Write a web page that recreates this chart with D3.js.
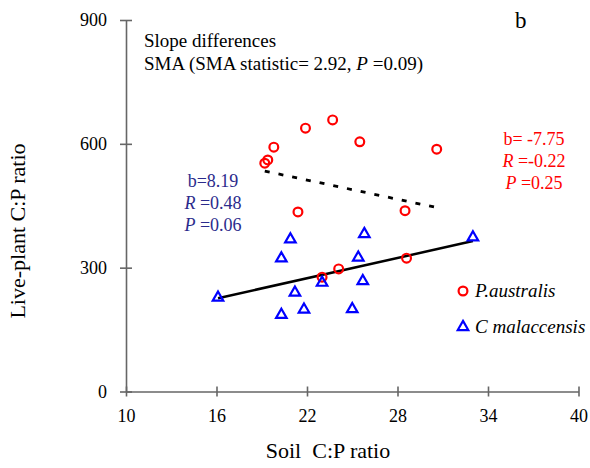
<!DOCTYPE html>
<html>
<head>
<meta charset="utf-8">
<script src="https://cdn.jsdelivr.net/npm/d3@7"></script>
<style>
  body { margin: 0; background: #fff; }
  svg { font-family: "Liberation Serif", "Times New Roman", serif; }
</style>
</head>
<body>
<div id="chart"></div>
<script>
// P.australis (red circles)
const pausX = [19.2, 19.4, 19.8, 21.9, 23.7, 25.5, 30.6, 21.4, 28.5, 28.6, 24.1, 23.0];
const pausY = [553, 561, 592, 638, 658, 605, 587, 435, 438, 323, 297, 277];
// C malaccensis (blue triangles)
const cmalX = [16.1, 20.9, 20.3, 25.8, 25.4, 25.7, 23.0, 21.2, 21.8, 20.3, 25.0, 33.0];
const cmalY = [230, 371, 325, 384, 327, 270, 266, 242, 201, 188, 202, 376];
// SMA fits (endpoints along x)
const cmalFitX = [16.1, 33.0], cmalFitB = 8.19, cmalFitY0 = 226;
const pausFitX = [19.2, 30.5], pausFitB = -7.75, pausFitY0 = 534;

const xTicks = [10, 16, 22, 28, 34, 40];
const yTicks = [0, 300, 600, 900];

const W = 590, H = 468;
const red = "#ff0000", blue = "#0000ff", navy = "#2b2b8c", axisColor = "#666";
const serif = '"Liberation Serif", "Times New Roman", serif';

const svg = d3.select("#chart").append("svg")
  .attr("width", W)
  .attr("height", H);

const x = d3.scaleLinear().domain([10, 40]).range([126, 578.5]);
const y = d3.scaleLinear().domain([0, 900]).range([391.5, 20]);

// axes
const xAxis = svg.append("g")
  .attr("transform", `translate(0,${y(0)})`)
  .call(d3.axisBottom(x).tickValues(xTicks).tickSize(5).tickSizeOuter(0))
  .attr("font-family", serif)
  .attr("font-size", 18);
xAxis.selectAll(".tick line").attr("y1", -5).attr("y2", 5);
xAxis.selectAll(".tick text").attr("y", 30).attr("dy", 0).attr("fill", "#000");

const yAxis = svg.append("g")
  .attr("transform", `translate(${x(10)},0)`)
  .call(d3.axisLeft(y).tickValues(yTicks).tickSize(6).tickSizeOuter(0))
  .attr("font-family", serif)
  .attr("font-size", 18);
yAxis.selectAll(".tick line").attr("x1", -6).attr("x2", 6);
yAxis.selectAll(".tick text").attr("x", -19).attr("dy", "0.33em").attr("fill", "#000");

svg.selectAll(".domain, .tick line")
  .attr("stroke", axisColor)
  .attr("stroke-width", 1.6);

// axis titles
svg.append("text")
  .attr("x", 328)
  .attr("y", 458)
  .attr("text-anchor", "middle")
  .style("font-size", "22px")
  .style("white-space", "pre")
  .text("Soil  C:P ratio");

svg.append("text")
  .attr("transform", "translate(25,231) rotate(-90)")
  .attr("text-anchor", "middle")
  .style("font-size", "22px")
  .text("Live-plant C:P ratio");

// fit lines
const line = d3.line().x(d => x(d[0])).y(d => y(d[1]));
const cmalFit = cmalFitX.map(v => [v, cmalFitY0 + cmalFitB * (v - cmalFitX[0])]);
const pausFit = pausFitX.map(v => [v, pausFitY0 + pausFitB * (v - pausFitX[0])]);

svg.append("path")
  .datum(cmalFit)
  .attr("d", line)
  .attr("fill", "none")
  .attr("stroke", "#000")
  .attr("stroke-width", 2.5);

svg.append("path")
  .datum(pausFit)
  .attr("d", line)
  .attr("fill", "none")
  .attr("stroke", "#000")
  .attr("stroke-width", 2.8)
  .attr("stroke-dasharray", "5,9");

// points
const tri = d3.symbol().type(d3.symbolTriangle).size(48);

svg.append("g").selectAll("circle")
  .data(d3.zip(pausX, pausY))
  .enter().append("circle")
  .attr("cx", d => x(d[0]))
  .attr("cy", d => y(d[1]))
  .attr("r", 4.4)
  .attr("fill", "none")
  .attr("stroke", red)
  .attr("stroke-width", 2.2);

svg.append("g").selectAll("path")
  .data(d3.zip(cmalX, cmalY))
  .enter().append("path")
  .attr("d", tri)
  .attr("transform", d => `translate(${x(d[0])},${y(d[1]) + 1})`)
  .attr("fill", "none")
  .attr("stroke", blue)
  .attr("stroke-width", 2.2);

// annotations
const head = svg.append("text").style("font-size", "19px");
head.append("tspan").attr("x", 144).attr("y", 47).text("Slope differences");
const l2 = head.append("tspan").attr("x", 144).attr("y", 70);
l2.append("tspan").text("SMA (SMA statistic= 2.92, ");
l2.append("tspan").style("font-style", "italic").text("P");
l2.append("tspan").text(" =0.09)");

svg.append("text")
  .attr("x", 515).attr("y", 28)
  .style("font-size", "23px")
  .text("b");

function statBlock(cx, y0, color, lines) {
  lines.forEach((ln, i) => {
    const t = svg.append("text")
      .attr("x", cx).attr("y", y0 + i * 22)
      .attr("text-anchor", "middle")
      .attr("fill", color)
      .style("font-size", "18px");
    if (ln[0]) t.append("tspan").style("font-style", "italic").text(ln[0]);
    t.append("tspan").text(ln[1]);
  });
}
statBlock(213, 187, navy, [["", "b=8.19"], ["R", " =0.48"], ["P", " =0.06"]]);
statBlock(534, 145, red, [["", "b= -7.75"], ["R", " =-0.22"], ["P", " =0.25"]]);

// legend
const legend = svg.append("g");
legend.append("circle")
  .attr("cx", 463).attr("cy", 291).attr("r", 4.4)
  .attr("fill", "none").attr("stroke", red).attr("stroke-width", 2.2);
legend.append("text")
  .attr("x", 475).attr("y", 297)
  .style("font-size", "19px").style("font-style", "italic")
  .text("P.australis");
legend.append("path")
  .attr("d", tri)
  .attr("transform", "translate(463,327)")
  .attr("fill", "none").attr("stroke", blue).attr("stroke-width", 2.2);
legend.append("text")
  .attr("x", 475).attr("y", 333)
  .style("font-size", "19px").style("font-style", "italic")
  .text("C malaccensis");
</script>
</body>
</html>
